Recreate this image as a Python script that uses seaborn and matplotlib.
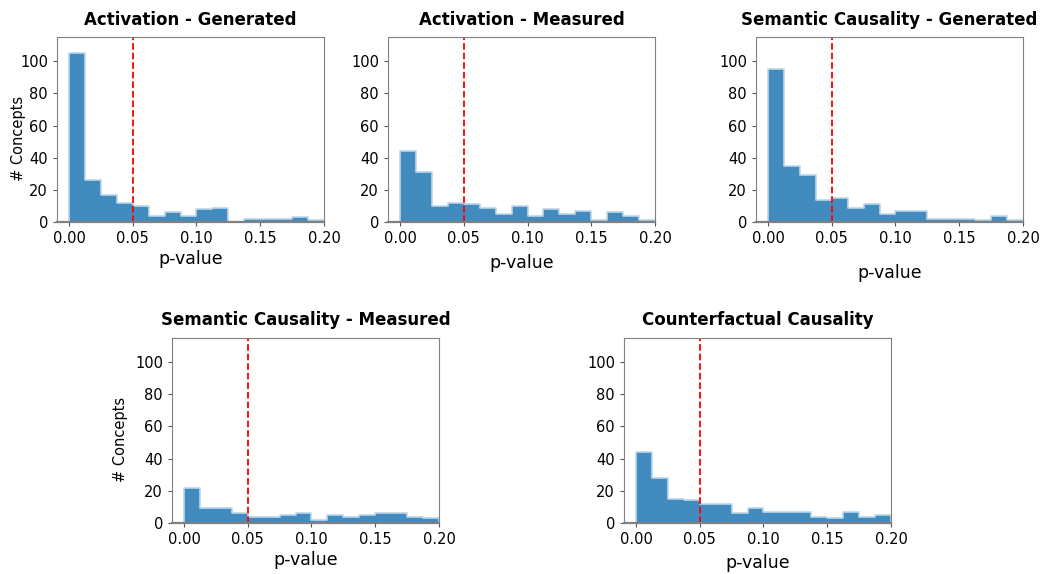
import numpy as np
import pandas as pd
import seaborn as sns
import matplotlib.pyplot as plt

# ______________________________________________________ DATA (counts per p-value bin, width 0.0125)
bin_width = 0.0125
bin_mids = np.arange(16) * bin_width + bin_width / 2

act_generated = [105, 26, 17, 12, 10, 4, 6, 4, 8, 9, 0, 2, 2, 2, 3, 1]
act_measured = [44, 31, 10, 12, 11, 9, 5, 10, 4, 8, 5, 7, 1, 6, 4, 1]
sem_generated = [95, 35, 29, 14, 15, 9, 11, 5, 7, 7, 2, 2, 2, 1, 4, 1]
sem_measured = [22, 9, 9, 6, 4, 4, 5, 6, 2, 5, 4, 5, 6, 6, 4, 3]
counterfactual = [44, 28, 15, 14, 12, 12, 6, 9, 7, 7, 7, 4, 3, 7, 4, 5]

titles = ['Activation - Generated', 'Activation - Measured', 'Semantic Causality - Generated',
          'Semantic Causality - Measured', 'Counterfactual Causality']
series = [act_generated, act_measured, sem_generated, sem_measured, counterfactual]
threshold = 0.05

# ______________________________________________________ PLOT
sns.set_style('white')
plt.rcParams['font.family'] = ['DejaVu Sans']
plt.rcParams['text.color'] = 'black'
plt.rcParams['axes.labelcolor'] = 'black'
plt.rcParams['xtick.color'] = 'black'
plt.rcParams['ytick.color'] = 'black'

fig = plt.figure(figsize=(10.4, 5.74), dpi=100)
w, h = 0.2567, 0.3223
positions = [(0.0548, 0.6132), (0.3731, 0.6132), (0.7269, 0.6132),
             (0.1654, 0.0889), (0.6000, 0.0889)]
label_pads = [3, 6, 13, 3, 5]
ylabel_x = {0: -0.116, 3: -0.165}

for i, (title, counts) in enumerate(zip(titles, series)):
    ax = fig.add_axes([positions[i][0], positions[i][1], w, h])
    df = pd.DataFrame({'p': bin_mids, 'n': counts})
    sns.histplot(data=df, x='p', weights='n', binwidth=bin_width, binrange=(0, 0.2), ax=ax,
                 element='step', color='#1f77b4', alpha=0.85, edgecolor='#bcd6ea', linewidth=1.2)
    ax.axvline(threshold, color='red', linestyle='--', linewidth=1.3)
    ax.set_xlim(-0.0094, 0.2)
    ax.set_ylim(0, 115)
    ax.set_xticks([0, 0.05, 0.1, 0.15, 0.2])
    ax.set_xticklabels(['0.00', '0.05', '0.10', '0.15', '0.20'])
    ax.set_yticks([0, 20, 40, 60, 80, 100])
    ax.tick_params(axis='both', labelsize=10.5, length=3, color='#555555', left=True, bottom=True)
    for s in ax.spines.values():
        s.set_color('#808080')
    ax.spines['bottom'].set_linewidth(1.6)
    ax.set_title(title, fontsize=12, fontweight='bold', pad=9)
    ax.set_xlabel('p-value', fontsize=12.5, labelpad=label_pads[i])
    if i in ylabel_x:
        ax.set_ylabel('# Concepts', fontsize=10.5)
        ax.yaxis.set_label_coords(ylabel_x[i], 0.45)
    else:
        ax.set_ylabel('')

plt.savefig('out.png', dpi=100)
